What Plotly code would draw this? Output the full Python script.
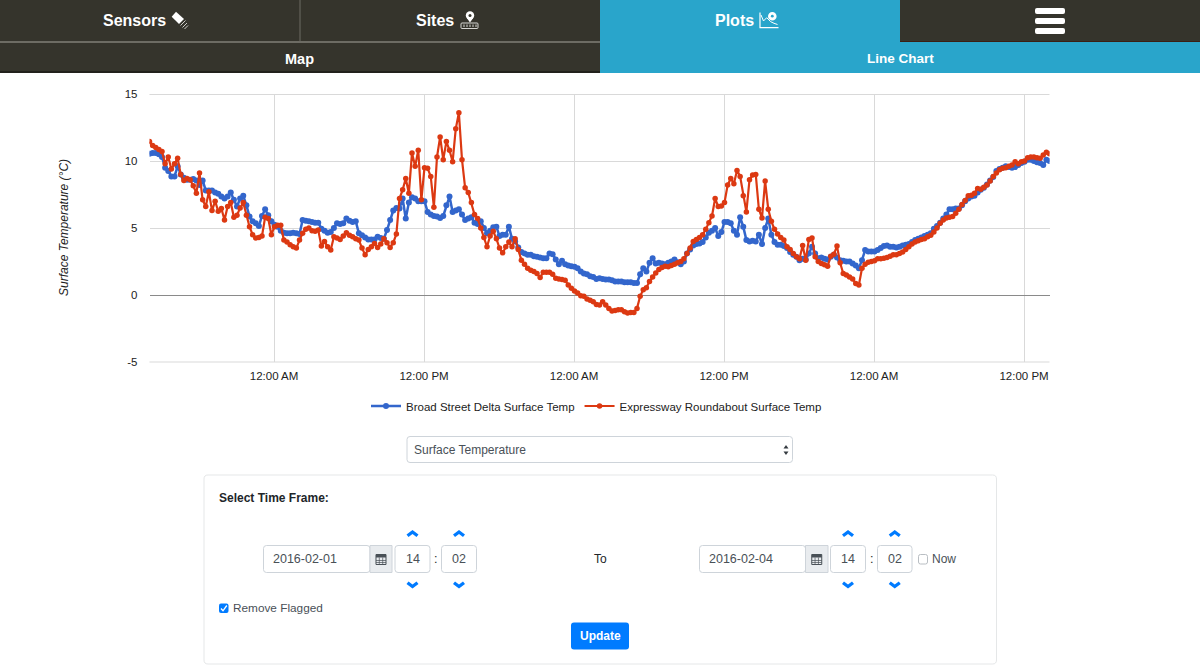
import pandas as pd
import plotly.graph_objects as go

W = 1200
H = 669

# readings, one every 15 minutes from 2016-02-01 14:02
broad_street = [
    10.55, 10.6, 10.6, 10.5, 10.3, 9.5, 9.25, 8.85, 8.85, 9.6, 9.0, 8.75, 8.6, 8.6, 8.65, 8.55,
    8.2, 8.55, 7.8, 7.8, 7.8, 7.65, 7.55, 7.35, 7.2, 7.35, 7.65, 7.1, 6.6, 7.2, 7.4, 6.7,
    5.85, 5.5, 5.35, 5.15, 5.9, 6.4, 5.95, 5.5, 5.25, 5.1, 4.8, 4.65, 4.6, 4.6, 4.65, 4.6,
    4.55, 5.6, 5.55, 5.5, 5.45, 5.4, 5.4, 4.95, 4.8, 4.65, 4.7, 5.0, 5.35, 5.3, 5.35, 5.7,
    5.55, 5.45, 5.5, 4.6, 4.45, 4.3, 4.15, 4.15, 4.15, 4.35, 4.25, 4.2, 4.85, 5.6, 6.3, 6.5,
    6.45, 7.2, 5.7, 6.9, 7.3, 7.2, 7.0, 7.0, 7.0, 6.2, 6.0, 5.9, 5.85, 5.75, 5.9, 6.7,
    7.35, 6.2, 6.3, 6.4, 6.0, 5.6, 5.7, 5.8, 5.4, 5.3, 5.5, 5.0, 4.6, 4.8, 5.05, 5.1,
    4.4, 4.5, 4.5, 5.1, 4.2, 4.0, 3.55, 3.2, 3.1, 3.0, 3.0, 2.9, 2.85, 2.8, 2.75, 2.75,
    3.1, 3.05, 2.65, 2.3, 2.55, 2.3, 2.2, 2.15, 2.1, 2.0, 1.75, 1.6, 1.55, 1.4, 1.35, 1.2,
    1.25, 1.2, 1.15, 1.15, 1.1, 1.0, 1.0, 1.0, 0.95, 0.95, 0.95, 0.9, 0.9, 1.55, 2.0, 1.75,
    2.4, 2.75, 2.35, 2.4, 2.35, 2.3, 2.4, 2.5, 2.65, 2.45, 2.3, 2.5, 3.1, 3.4, 3.7, 3.8,
    3.85, 3.95, 4.3, 4.65, 4.8, 5.0, 4.4, 4.7, 5.45, 5.45, 5.35, 4.8, 4.5, 5.8, 5.1, 4.1,
    4.0, 4.05, 4.0, 4.5, 3.8, 5.0, 5.7, 4.5, 3.95, 3.75, 3.75, 3.65, 3.5, 3.2, 3.0, 2.85,
    2.6, 2.7, 2.65, 3.1, 3.6, 3.1, 2.75, 2.8, 2.7, 2.65, 2.85, 3.0, 2.8, 2.6, 2.55, 2.5,
    2.5, 2.35, 2.2, 2.0, 2.6, 3.35, 3.25, 3.25, 3.25, 3.35, 3.5, 3.65, 3.7, 3.6, 3.6, 3.55,
    3.6, 3.7, 3.75, 3.8, 3.95, 4.1, 4.2, 4.3, 4.4, 4.5, 4.6, 4.95, 5.15, 5.4, 5.7, 6.0,
    6.4, 6.4, 6.45, 6.45, 6.7, 7.0, 7.2, 7.35, 7.4, 7.65, 7.85, 8.0, 8.25, 8.55, 8.8, 9.25,
    9.4, 9.5, 9.6, 9.55, 9.5, 9.55, 9.7, 9.85, 9.95, 10.1, 10.1, 10.0, 9.9, 9.85, 9.7, 10.1,
    10.0,
]

expressway = [
    11.45, 11.15, 11.0, 10.85, 10.7, 9.8, 10.3, 9.4, 9.8, 10.2, 9.0, 8.55, 8.7, 8.6, 8.15, 7.6,
    9.1, 7.1, 6.6, 7.7, 6.3, 7.0, 6.25, 6.45, 5.6, 6.6, 6.9, 5.8, 5.95, 6.5, 6.9, 5.95,
    5.1, 4.5, 4.25, 4.3, 4.4, 5.8, 5.7, 4.5, 5.1, 5.2, 5.2, 4.1, 3.95, 3.75, 3.6, 3.5,
    4.1, 4.6, 4.9, 5.0, 4.8, 4.75, 4.85, 3.65, 4.0, 3.6, 3.35, 4.35, 4.25, 4.15, 4.4, 4.65,
    4.45, 4.35, 4.2, 4.1, 3.5, 3.0, 3.4, 3.6, 3.85, 3.55, 3.8, 4.2, 3.9, 3.55, 3.9, 4.55,
    7.2, 7.85, 8.7, 7.6, 10.6, 9.6, 10.8, 7.1, 9.5, 9.45, 8.85, 6.55, 10.3, 11.8, 10.1, 11.45,
    10.8, 9.95, 12.4, 13.6, 10.1, 8.0, 7.65, 6.9, 6.0, 5.7, 5.0, 4.3, 3.6, 4.4, 4.75, 4.2,
    3.5, 3.15, 3.6, 3.95, 3.6, 4.2, 3.4, 2.6, 2.3, 2.0, 1.85, 1.75, 1.6, 1.3, 1.7, 1.7,
    1.7, 1.55, 1.25, 1.2, 1.15, 1.1, 0.75, 0.5, 0.3, 0.15, -0.05, -0.1, -0.3, -0.4, -0.5, -0.7,
    -0.75, -0.5, -0.75, -1.0, -1.2, -1.15, -1.1, -1.1, -1.25, -1.35, -1.3, -1.3, -1.0, -0.1, 0.4, 0.55,
    1.0, 1.35, 1.65, 1.9, 2.05, 2.15, 2.1, 2.2, 2.3, 2.4, 2.5, 2.7, 3.1, 3.5, 4.0, 4.15,
    4.3, 4.5, 4.9, 5.4, 5.9, 7.2, 6.6, 6.65, 6.9, 8.2, 8.7, 8.3, 9.3, 8.85, 7.4, 6.2,
    8.6, 8.95, 9.0, 6.4, 5.75, 8.5, 6.4, 5.5, 4.9, 4.55, 4.3, 4.1, 3.6, 3.4, 3.1, 2.85,
    2.7, 3.7, 2.6, 4.15, 4.25, 2.85, 2.5, 2.35, 2.25, 2.15, 2.9, 3.05, 3.65, 2.4, 1.6, 1.5,
    1.35, 1.2, 0.85, 0.75, 2.0, 2.3, 2.45, 2.5, 2.55, 2.7, 2.7, 2.75, 2.8, 2.9, 3.0, 3.0,
    3.1, 3.2, 3.4, 3.6, 3.8, 3.95, 4.05, 4.15, 4.2, 4.35, 4.45, 4.7, 5.0, 5.35, 5.6, 5.75,
    5.8, 5.85, 6.1, 6.4, 6.75, 7.05, 7.4, 7.45, 7.6, 7.95, 7.9, 8.05, 8.2, 8.5, 8.85, 9.1,
    9.35, 9.45, 9.5, 9.6, 9.7, 9.95, 9.8, 9.95, 10.0, 10.25, 10.3, 10.3, 10.25, 10.2, 10.45, 10.65,
    10.55,
]

y_ticks = [-5, 0, 5, 10, 15]
y_tick_labels = ["-5", "0", "5", "10", "15"]
x_ticks = ["2016-02-02 00:00", "2016-02-02 12:00", "2016-02-03 00:00",
           "2016-02-03 12:00", "2016-02-04 00:00", "2016-02-04 12:00"]
x_tick_labels = ["12:00 AM", "12:00 PM"] * 3

BLUE = "#3366cc"
RED = "#dc3912"
DARK = "#35342c"
TEAL = "#29a5cb"
BORDER = "#ced4da"
LINK = "#007bff"
GRID = "#d9d9d9"
FONT = "Liberation Sans"

shapes = []
notes = []


def fx(x):
    return x / W


def fy(y):
    return 1 - y / H


# everything around the chart is drawn in page pixels
def path(points, fill=None, line=None, width=1, close=True):
    d = "M" + " L".join(f"{fx(x):.5f},{fy(y):.5f}" for x, y in points)
    if close:
        d += " Z"
    shapes.append(dict(type="path", xref="paper", yref="paper", path=d,
                       fillcolor=fill or "rgba(0,0,0,0)",
                       line=dict(color=line or "rgba(0,0,0,0)", width=width if line else 0)))


def box(x0, y0, x1, y1, fill=None, line=None, r=0):
    if r == 0:
        path([(x0, y0), (x1, y0), (x1, y1), (x0, y1)], fill, line)
        return
    d = f"M{fx(x0 + r):.5f},{fy(y0):.5f}"
    d += f" L{fx(x1 - r):.5f},{fy(y0):.5f} Q{fx(x1):.5f},{fy(y0):.5f} {fx(x1):.5f},{fy(y0 + r):.5f}"
    d += f" L{fx(x1):.5f},{fy(y1 - r):.5f} Q{fx(x1):.5f},{fy(y1):.5f} {fx(x1 - r):.5f},{fy(y1):.5f}"
    d += f" L{fx(x0 + r):.5f},{fy(y1):.5f} Q{fx(x0):.5f},{fy(y1):.5f} {fx(x0):.5f},{fy(y1 - r):.5f}"
    d += f" L{fx(x0):.5f},{fy(y0 + r):.5f} Q{fx(x0):.5f},{fy(y0):.5f} {fx(x0 + r):.5f},{fy(y0):.5f} Z"
    shapes.append(dict(type="path", xref="paper", yref="paper", path=d,
                       fillcolor=fill or "rgba(0,0,0,0)",
                       line=dict(color=line or "rgba(0,0,0,0)", width=1 if line else 0)))


def dot(cx, cy, r, fill):
    shapes.append(dict(type="circle", xref="paper", yref="paper", x0=fx(cx - r), x1=fx(cx + r),
                       y0=fy(cy + r), y1=fy(cy - r), fillcolor=fill, line=dict(width=0)))


def text(x, y, s, size=12, color="#212529", bold=False, anchor="left", angle=0, italic=False):
    if bold:
        s = f"<b>{s}</b>"
    if italic:
        s = f"<i>{s}</i>"
    notes.append(dict(xref="paper", yref="paper", x=fx(x), y=fy(y), text=s, showarrow=False,
                      xanchor=anchor, yanchor="middle", textangle=angle, borderwidth=0, borderpad=0,
                      font=dict(family=FONT, size=size, color=color)))


def chevron(cx, cy, up=True):
    s = -1 if up else 1
    path([(cx - 6, cy - s * 1), (cx - 4, cy - s * 3.5), (cx, cy - s * 0.5), (cx + 4, cy - s * 3.5),
          (cx + 6, cy - s * 1), (cx, cy + s * 3.5)], LINK)


def calendar(x0, x1, y0=545.5, y1=572.5):
    cx = (x0 + x1) / 2
    cy = (y0 + y1) / 2
    box(x0, y0, x1, y1, "#e9ecef", BORDER)
    box(cx - 5, cy - 4.5, cx + 5, cy + 5.5, None, "#495057")
    box(cx - 5, cy - 4.5, cx + 5, cy - 1.5, "#495057")
    for off in (-1.7, 1.7):
        path([(cx + off, cy - 1.5), (cx + off, cy + 5.5)], None, "#495057", 0.7, False)
    for off in (1.5, 3.5):
        path([(cx - 5, cy + off), (cx + 5, cy + off)], None, "#495057", 0.7, False)


def date_time(x_date, x_addon, x_addon_end, x_h0, x_h1, x_m0, x_m1, date):
    box(x_date, 545.5, x_addon, 572.5, "white", BORDER, 3)
    calendar(x_addon, x_addon_end)
    box(x_h0, 545.5, x_h1, 572.5, "white", BORDER, 3)
    box(x_m0, 545.5, x_m1, 572.5, "white", BORDER, 3)
    text(x_date + 9.5, 559, date, 12.5, "#495057")
    text((x_h0 + x_h1) / 2, 559, "14", 12.5, "#495057", anchor="center")
    text((x_m0 + x_m1) / 2, 559, "02", 12.5, "#495057", anchor="center")
    text((x_h1 + x_m0) / 2, 559, ":", 12.5, "#212529", anchor="center")
    for c in ((x_h0 + x_h1) / 2, (x_m0 + x_m1) / 2):
        chevron(c, 533.5, True)
        chevron(c, 585, False)


# top navigation
box(0, 0, 300, 42, DARK)
box(300, 0, 600, 42, DARK)
box(600, 0, 900, 73, TEAL)
box(900, 0, 1200, 41, DARK)
box(900, 41, 1200, 42, "#3a1f14")
box(0, 41, 600, 43, "#6d6c64")
box(299.5, 0, 300.5, 42, "#6d6c64")
box(0, 43, 600, 71, DARK)
box(0, 71, 600, 73, "#22211c")
box(600, 42, 1200, 73, TEAL)
text(134, 21, "Sensors", 16, "white", True, "center")
text(434.5, 21, "Sites", 16, "white", True, "center")
text(734, 21, "Plots", 16, "white", True, "center")
text(299.5, 58.5, "Map", 14.5, "white", True, "center")
text(900, 58.5, "Line Chart", 13.5, "white", True, "center")
for top, bottom in ((8, 14), (18, 24), (28, 34)):
    box(1035, top, 1065, bottom, "white", None, 2)

# sensors icon
path([(171.7, 16.7), (176, 11.7), (184, 19), (179, 24)], "white")
path([(180.5, 25.5), (185.5, 20.5)], None, "#cfcfca", 1, False)
path([(182.5, 27.5), (187, 23)], None, "#cfcfca", 1, False)
path([(184.5, 29), (188, 25.5)], None, "#cfcfca", 1, False)
# sites icon
dot(470, 15.5, 4.2, "white")
dot(470, 15.5, 1.5, DARK)
path([(466.5, 17.5), (473.5, 17.5), (470, 22.5)], "white")
box(461, 23, 478, 28.5, None, "#d8d8d4", 1)
for dx in (464, 467, 470, 473, 476):
    path([(dx, 24.5), (dx, 27)], None, "#d8d8d4", 1, False)
# plots icon
path([(760, 12.5), (760, 27.7), (778.5, 27.7)], None, "white", 1.2, False)
path([(761, 15), (763.5, 21), (766.7, 17.7), (770.7, 21.7), (774, 23.3), (777.5, 24.5)], None, "white", 1, False)
dot(772.3, 16.2, 4.3, "white")
dot(772.3, 16.2, 1.4, TEAL)

# top and bottom grid lines, plotly leaves out the ones at the ends of the range
path([(149.5, 94.5), (1049.5, 94.5)], None, GRID, 1, False)
path([(149.5, 362), (1049.5, 362)], None, GRID, 1, False)

# form under the chart
box(407, 436.5, 792.5, 462.5, "white", BORDER, 3)
text(414, 450, "Surface Temperature", 12, "#495057")
path([(783.5, 448.5), (786, 445), (788.5, 448.5)], "#343a40")
path([(783.5, 451.5), (786, 455), (788.5, 451.5)], "#343a40")

box(204, 475, 996.5, 664, "white", "#e5e7e8", 4)
text(219, 498, "Select Time Frame:", 12, "#212529", True)
date_time(263.5, 370, 392, 395, 430, 441.5, 476.5, "2016-02-01")
text(600, 559, "To", 12, "#212529", anchor="center")
date_time(699.5, 805.5, 828, 830.5, 865.5, 877.5, 912, "2016-02-04")
box(918.5, 554.5, 927.5, 564, "white", "#b9bec3", 2)
text(932, 559, "Now", 12, "#495057")
box(219, 603.5, 228.5, 613, LINK, None, 2)
path([(221, 608.5), (223, 610.8), (226.8, 605.5)], None, "white", 1.3, False)
text(233, 608, "Remove Flagged", 11.8, "#495057")
box(571, 622.5, 629, 649.5, LINK, None, 3)
text(600, 636, "Update", 12, "white", True, "center")

# chart side labels
text(64, 228, "Surface Temperature (°C)", 12, "#222222", anchor="center", angle=-90, italic=True)

times = pd.date_range("2016-02-01 14:02", periods=len(broad_street), freq="15min")

fig = go.Figure()
fig.add_trace(go.Scatter(x=times, y=broad_street, name="Broad Street Delta Surface Temp",
                         mode="lines+markers", line=dict(color=BLUE, width=2.5),
                         marker=dict(color=BLUE, size=6)))
fig.add_trace(go.Scatter(x=times, y=expressway, name="Expressway Roundabout Surface Temp",
                         mode="lines+markers", line=dict(color=RED, width=2.2),
                         marker=dict(color=RED, size=5.5)))

fig.update_layout(
    width=W,
    height=H,
    margin=dict(l=0, r=0, t=0, b=0, autoexpand=False),
    paper_bgcolor="white",
    plot_bgcolor="white",
    font=dict(family=FONT, size=12, color="#222222"),
    shapes=shapes,
    annotations=notes,
    legend=dict(orientation="h", x=fx(366), y=fy(406), xanchor="left", yanchor="middle",
                itemwidth=30, bgcolor="rgba(0,0,0,0)",
                font=dict(family=FONT, size=11.5, color="#222222")),
)
fig.update_xaxes(
    domain=[fx(149.5), fx(1049.5)],
    range=["2016-02-01 14:02", "2016-02-04 14:02"],
    tickmode="array", tickvals=x_ticks, ticktext=x_tick_labels,
    showgrid=True, gridcolor=GRID, gridwidth=1, zeroline=False, showline=False,
    ticks="", ticklabelstandoff=5, tickfont=dict(family=FONT, size=11.5, color="#222222"),
)
fig.update_yaxes(
    domain=[fy(362), fy(94)],
    range=[-5, 15],
    tickmode="array", tickvals=y_ticks, ticktext=y_tick_labels,
    showgrid=True, gridcolor=GRID, gridwidth=1,
    zeroline=True, zerolinecolor="#8a8a8a", zerolinewidth=1, showline=False,
    ticks="", ticklabelstandoff=11, tickfont=dict(family=FONT, size=11.5, color="#222222"),
)

fig.write_html("out.html", config=dict(displayModeBar=False),
               post_script="document.body.style.margin='0';document.body.style.overflow='hidden';")
